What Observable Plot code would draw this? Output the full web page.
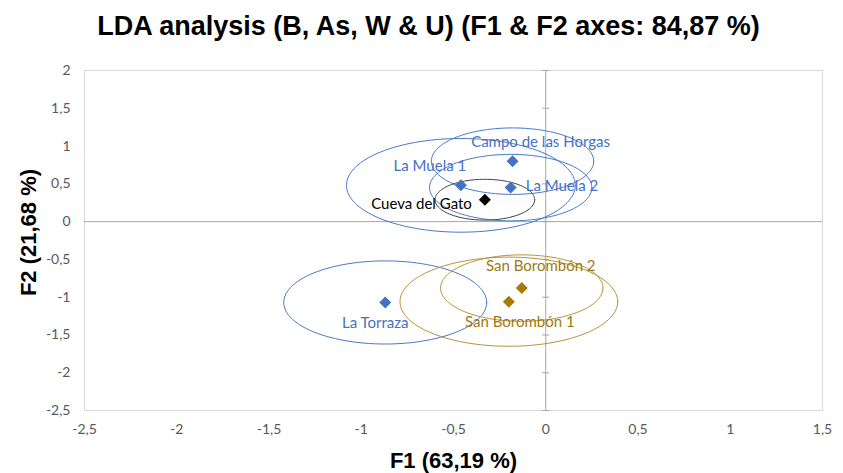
<!DOCTYPE html>
<html><head><meta charset="utf-8">
<script src="https://cdn.jsdelivr.net/npm/d3@7"></script>
<script src="https://cdn.jsdelivr.net/npm/@observablehq/plot@0.6"></script>
<style>
body{margin:0;background:#fff;}
#title{height:55px;width:843px;text-align:center;font-family:"Liberation Sans Narrow","Liberation Sans",Arial,sans-serif;font-weight:bold;font-size:27px;line-height:52px;color:#000;padding-left:14px;box-sizing:border-box;}
</style></head>
<body>
<div id="title">LDA analysis (B, As, W &amp; U) (F1 &amp; F2 axes: 84,87 %)</div>
<div id="chart"></div>
<script>
const groups = ["Campo de las Horgas","La Muela 1","La Muela 2","Cueva del Gato","La Torraza","San Borombón 1","San Borombón 2"];
const f1 = [-0.18,-0.46,-0.19,-0.33,-0.87,-0.20,-0.13];
const f2 = [0.80,0.48,0.45,0.29,-1.07,-1.06,-0.88];
const radius = [0.44,0.62,0.44,0.27,0.55,0.59,0.44];
const family = ["blue","blue","blue","black","blue","gold","gold"];
const xTicks = [-2.5,-2,-1.5,-1,-0.5,0,0.5,1,1.5];
const yTicks = [-2.5,-2,-1.5,-1,-0.5,0,0.5,1,1.5,2];

const markColor = {blue:"#4472C4", gold:"#A67C08", black:"#000000"};
const ringColor = {blue:"#4A78C8", gold:"#B8923A", black:"#404040"};
const labelColor = {blue:"#4472C4", gold:"#A07A10", black:"#000000"};
const labelPos = {
  "Campo de las Horgas": {dx:28, dy:-19, anchor:"middle"},
  "La Muela 1": {dx:-31, dy:-19, anchor:"middle"},
  "La Muela 2": {dx:15, dy:-1, anchor:"start"},
  "Cueva del Gato": {dx:-13, dy:4, anchor:"end"},
  "La Torraza": {dx:-10, dy:21, anchor:"middle"},
  "San Borombón 1": {dx:11, dy:20, anchor:"middle"},
  "San Borombón 2": {dx:19, dy:-22, anchor:"middle"}
};

const pts = groups.map((name,i)=>({name, x:f1[i], y:f2[i], r:radius[i], fam:family[i]}));
const ring = pts.flatMap(p => d3.range(0, 361, 3).map(a => ({
  name:p.name, fam:p.fam,
  x: p.x + p.r*Math.cos(a*Math.PI/180),
  y: p.y + p.r*Math.sin(a*Math.PI/180)
})));

const fmt = d => String(d).replace(".", ",");
const tickSym = {draw(ctx, size){ const r = Math.sqrt(size/Math.PI); ctx.moveTo(-r,0); ctx.lineTo(r,0); }};
const font = "Lato, 'Open Sans', sans-serif";
const boldFont = "'Liberation Sans Narrow','Liberation Sans',Arial,sans-serif";

const labelMarks = pts.map(p => Plot.text([p], {
  x:"x", y:"y", text:"name", dx:labelPos[p.name].dx, dy:labelPos[p.name].dy,
  textAnchor:labelPos[p.name].anchor, fill:labelColor[p.fam], fontSize:15, fontFamily:font
}));

const chart = Plot.plot({
  width:843, height:418,
  marginLeft:84, marginRight:21, marginTop:15, marginBottom:63,
  style:{fontFamily:font, background:"#fff"},
  x:{domain:[-2.5,1.5], label:null},
  y:{domain:[-2.5,2], label:null},
  marks:[
    Plot.frame({stroke:"#D9D9D9"}),
    Plot.ruleY([0], {stroke:"#A6A6A6"}),
    Plot.ruleX([0], {stroke:"#A6A6A6"}),
    Plot.dot(yTicks, {x:()=>0, y:d=>d, symbol:tickSym, r:3.5, stroke:"#A6A6A6", strokeWidth:1}),
    Plot.axisX({ticks:xTicks, tickFormat:fmt, tickSize:0, tickPadding:14, fontSize:14, fill:"#595959", label:null}),
    Plot.axisY({ticks:yTicks, tickFormat:fmt, tickSize:0, tickPadding:14, fontSize:14, fill:"#595959", label:null}),
    Plot.line(ring, {x:"x", y:"y", z:"name", stroke:d=>ringColor[d.fam], strokeWidth:1}),
    Plot.dot(pts, {x:"x", y:"y", symbol:"diamond2", r:5.4, fill:d=>markColor[d.fam], stroke:"none"}),
    ...labelMarks,
    Plot.text(["F1 (63,19 %)"], {frameAnchor:"bottom", dy:57, fontSize:22, fontWeight:"bold", fill:"#000", fontFamily:boldFont}),
    Plot.text(["F2 (21,68 %)"], {frameAnchor:"left", dx:-56, dy:-8, rotate:-90, textAnchor:"middle", fontSize:22, fontWeight:"bold", fill:"#000", fontFamily:boldFont})
  ]
});
document.getElementById("chart").appendChild(chart);
</script>
</body></html>
